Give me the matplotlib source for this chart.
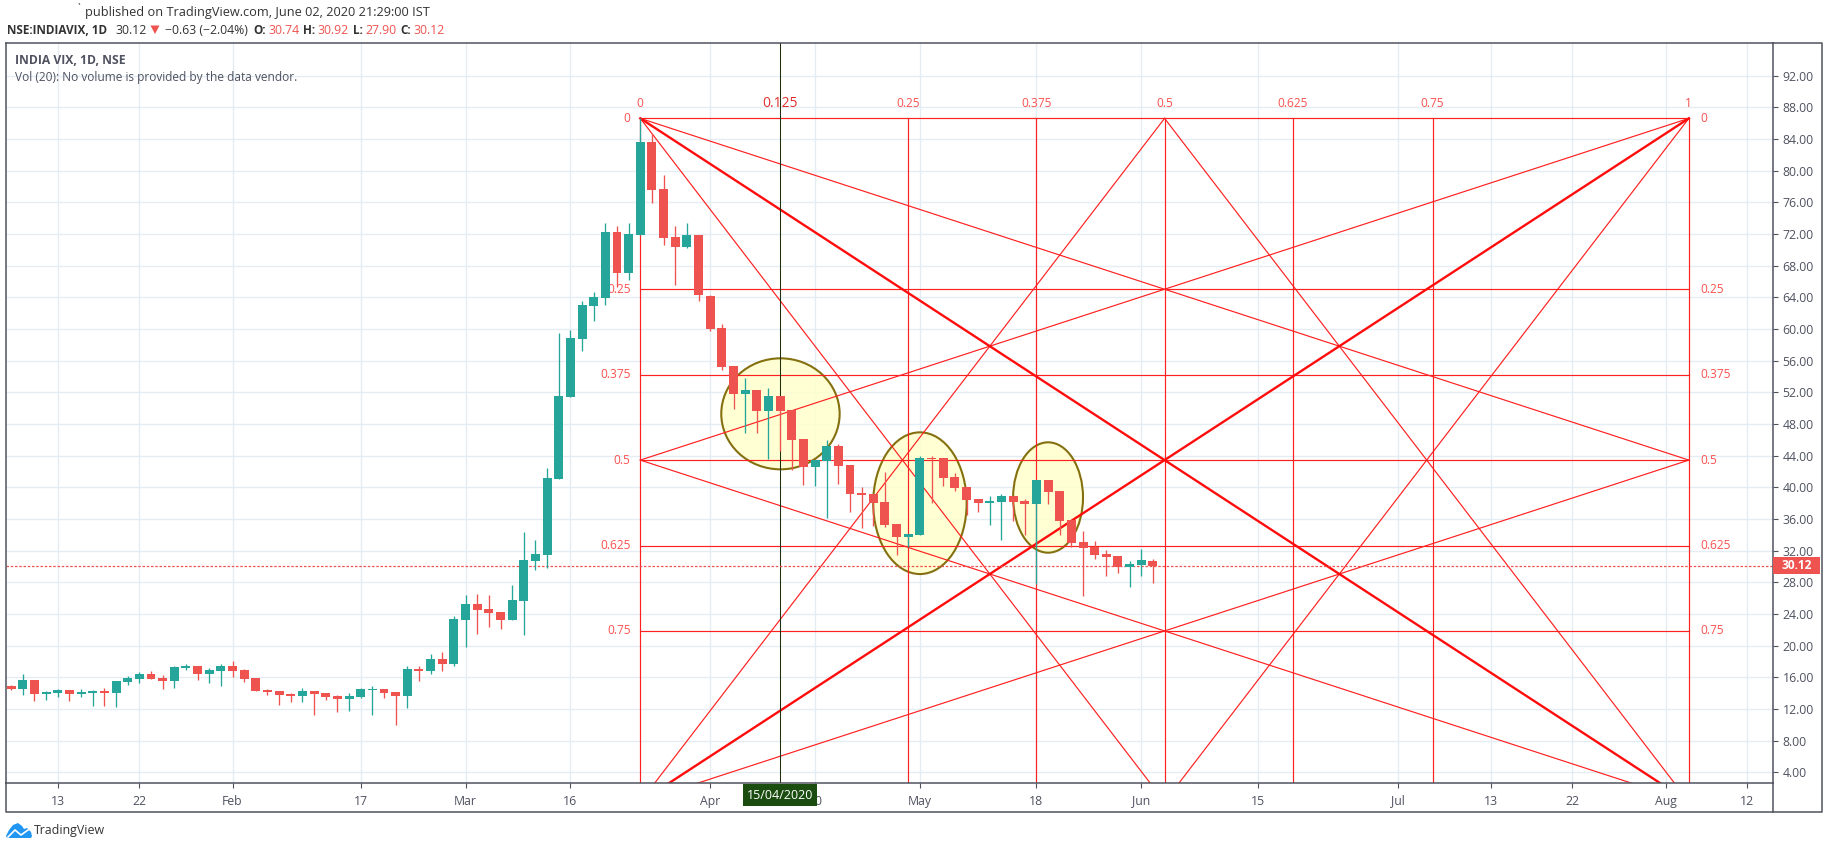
import matplotlib
matplotlib.use('Agg')
import matplotlib.pyplot as plt
from matplotlib.patches import Ellipse, Polygon, Rectangle

plt.rcParams['font.family'] = ['Open Sans', 'DejaVu Sans']

opens = [14.92, 14.49, 15.66, 13.85, 13.98, 14.37, 13.85, 13.98, 14.24, 13.98,
         15.4, 15.78, 16.43, 15.9, 15.53, 17.2, 17.46, 16.43, 16.8, 17.46,
         16.95, 15.9, 14.37, 14.24, 13.85, 13.6, 14.24, 13.98, 13.6, 13.2,
         13.46, 14.37, 14.5, 14.1, 13.6, 17.07, 16.84, 18.32, 17.68, 23.24,
         25.26, 24.63, 24.25, 23.24, 25.64, 30.69, 31.45, 41.09, 51.45, 58.78,
         62.9, 63.92, 72.25, 67.07, 71.87, 83.62, 77.68, 71.62, 70.36, 71.87,
         64.2, 60.17, 55.37, 51.83, 52.34, 49.68, 51.58, 49.81, 46.15, 42.61,
         43.33, 45.26, 42.78, 39.24, 39.12, 38.1, 35.33, 33.68, 33.94, 43.66,
         43.66, 41.26, 40.0, 38.48, 37.98, 38.1, 38.86, 38.23, 37.85, 40.88,
         39.49, 35.83, 33.05, 32.5, 31.54, 31.28, 29.89, 30.15, 30.74]
highs = [15.0, 16.43, 15.66, 14.24, 14.5, 14.37, 14.5, 14.37, 14.62, 15.53,
         16.17, 16.7, 16.8, 16.3, 17.46, 17.72, 17.46, 17.2, 17.72, 18.1,
         17.07, 15.9, 14.5, 14.24, 13.98, 14.62, 14.24, 13.98, 13.72, 13.98,
         14.62, 14.88, 14.5, 14.1, 17.46, 17.46, 18.95, 19.2, 23.75, 26.4,
         26.53, 26.4, 24.25, 27.66, 34.36, 33.35, 42.44, 59.5, 59.87, 63.54,
         64.67, 73.39, 73.0, 73.39, 86.6, 84.63, 79.45, 73.0, 73.39, 71.87,
         64.3, 60.67, 55.37, 53.85, 52.34, 52.59, 51.58, 49.81, 46.15, 43.49,
         46.02, 45.52, 42.86, 40.0, 39.12, 41.89, 35.33, 34.06, 43.92, 43.92,
         43.66, 41.77, 40.0, 38.48, 38.86, 39.12, 38.86, 38.48, 40.88, 40.88,
         39.49, 35.83, 34.44, 33.18, 32.04, 31.28, 30.65, 32.17, 30.92]
lows = [14.37, 13.72, 12.95, 13.08, 13.5, 12.95, 13.5, 12.43, 12.43, 12.3,
        15.0, 15.27, 15.78, 14.5, 14.62, 16.95, 15.66, 15.27, 14.9, 16.04,
        15.4, 14.24, 13.72, 12.56, 12.82, 12.82, 11.27, 13.08, 11.66, 11.78,
        13.33, 11.27, 13.33, 9.98, 12.17, 15.53, 16.46, 16.84, 17.43, 19.83,
        21.47, 22.36, 22.1, 23.24, 21.35, 29.56, 29.8, 41.09, 51.45, 57.26,
        61.05, 63.03, 65.3, 66.19, 71.87, 75.92, 70.61, 65.56, 70.23, 63.54,
        59.8, 54.86, 49.94, 46.9, 46.9, 43.62, 44.63, 42.23, 40.34, 40.21,
        36.17, 40.46, 36.84, 34.82, 35.07, 34.95, 31.41, 32.46, 33.94, 37.98,
        40.13, 39.49, 36.46, 36.84, 35.2, 33.31, 35.71, 33.94, 27.83, 37.85,
        33.94, 32.5, 26.23, 30.9, 28.76, 29.14, 27.37, 28.76, 27.9]
closes = [14.49, 15.66, 13.85, 14.1, 14.37, 13.85, 14.1, 14.24, 13.98, 15.53,
          15.9, 16.43, 15.78, 15.53, 17.33, 17.46, 16.43, 16.95, 17.46, 16.8,
          15.78, 14.24, 14.1, 13.72, 13.6, 14.24, 13.85, 13.46, 13.2, 13.6,
          14.5, 14.5, 13.98, 13.6, 17.07, 16.84, 18.32, 17.68, 23.37, 25.26,
          24.5, 24.13, 23.24, 25.77, 30.82, 31.58, 41.18, 51.54, 58.86, 63.03,
          64.04, 72.25, 67.07, 72.0, 83.62, 77.56, 71.49, 70.36, 71.87, 64.29,
          60.04, 55.24, 51.83, 52.34, 49.68, 51.58, 49.68, 46.02, 42.61, 43.49,
          45.26, 42.74, 39.12, 38.99, 37.98, 35.2, 33.68, 34.06, 43.66, 43.54,
          41.14, 39.87, 38.36, 37.98, 38.23, 38.86, 38.1, 37.85, 40.88, 39.37,
          35.71, 32.93, 32.29, 31.41, 31.16, 29.89, 30.27, 30.78, 30.12]

tick_bars = [4, 11, 19, 30, 39, 48, 60, 69, 78, 88, 97, 107, 119, 127, 134, 142, 149]
tick_labels = ['13', '22', 'Feb', '17', 'Mar', '16', 'Apr', '20', 'May', '18', 'Jun',
               '15', 'Jul', '13', '22', 'Aug', '12']
price_ticks = list(range(4, 96, 4))
last_price = 30.12

# gann box
box_bars = [54, 66, 77, 88, 99, 110, 122, 144]
box_bar_labels = ['0', '0.125', '0.25', '0.375', '0.5', '0.625', '0.75', '1']
box_top = 86.6
box_bottom = 0.27
box_levels = [0, 0.25, 0.375, 0.5, 0.625, 0.75]
level_labels = ['0', '0.25', '0.375', '0.5', '0.625', '0.75']
crosshair_bar = 66
crosshair_date = '15/04/2020'

# highlighted areas: centre bar, centre price, width in bars, height in price
circle_bars = [66.03, 78.0, 89.0]
circle_prices = [49.28, 37.99, 38.71]
circle_widths = [10.16, 8.02, 6.0]
circle_heights = [14.02, 17.9, 13.94]

UP = '#26a69a'
DOWN = '#ef5350'
GRID = '#e3edf3'
FRAME = '#50535e'
TEXT = '#4f5260'
GANN = '#ff2020'
GANN_TEXT = '#f9514f'
W, H = 1828, 849


def level_price(frac):
    return box_top + (box_bottom - box_top) * frac


fig = plt.figure(figsize=(W / 100, H / 100), dpi=100)
ax = fig.add_axes([6.3 / W, 1 - 783.3 / H, (1773.3 - 6.3) / W, (783.3 - 43) / H])
ax.set_xlim(-0.42, 151.25)
ax.set_ylim(2.61, 96.12)
ax.set_axisbelow(True)
ax.grid(True, color=GRID, lw=1.0)
for s in ax.spines.values():
    s.set_color(FRAME)
    s.set_linewidth(1.1)

ax.set_xticks(tick_bars)
ax.set_xticklabels(tick_labels)
ax.yaxis.tick_right()
ax.set_yticks(price_ticks)
ax.set_yticklabels(['%.2f' % p for p in price_ticks])
ax.tick_params(axis='x', length=3.6, width=0.8, color=FRAME, labelcolor=TEXT, labelsize=8.8, pad=4.5)
ax.tick_params(axis='y', length=3.6, width=0.8, color=FRAME, labelcolor=TEXT, labelsize=8.8, pad=3.2)

for cx, cy, cw, ch in zip(circle_bars, circle_prices, circle_widths, circle_heights):
    ax.add_patch(Ellipse((cx, cy), cw, ch, facecolor=(1, 1, 0.8, 0.85), edgecolor='#85700f', lw=1.5, zorder=1.5))

# gann lines
left, mid, right = box_bars[0], box_bars[4], box_bars[-1]
for f in box_levels:
    ax.plot([left, right], [level_price(f)] * 2, color=GANN, lw=0.85, zorder=2)
for b in box_bars:
    if b != crosshair_bar:
        ax.plot([b, b], [box_top, box_bottom], color=GANN, lw=0.85, zorder=2)
thin = [(left, 0, mid, 1), (right, 0, mid, 1), (mid, 0, left, 1), (mid, 0, right, 1),
        (left, 0, right, 0.5), (right, 0, left, 0.5), (left, 0.5, right, 1), (right, 0.5, left, 1)]
for x0, f0, x1, f1 in thin:
    ax.plot([x0, x1], [level_price(f0), level_price(f1)], color=GANN, lw=0.85, zorder=2)
for x0, f0, x1, f1 in [(left, 0, right, 1), (right, 0, left, 1)]:
    ax.plot([x0, x1], [level_price(f0), level_price(f1)], color='#ff0c0c', lw=1.7, zorder=2)

for f, lab in zip(box_levels, level_labels):
    ax.annotate(lab, (left, level_price(f)), xytext=(-7, 0), textcoords='offset points', ha='right', va='center',
                color=GANN_TEXT, fontsize=8.6, zorder=2.2)
    ax.annotate(lab, (right, level_price(f)), xytext=(8, 0), textcoords='offset points', ha='left', va='center',
                color=GANN_TEXT, fontsize=8.6, zorder=2.2)
for b, lab in zip(box_bars, box_bar_labels):
    ax.annotate(lab, (b, box_top), xytext=(0, 10.5), textcoords='offset points', ha='center', va='center',
                color='#e0302c' if lab == '0.125' else GANN_TEXT, fontsize=10 if lab == '0.125' else 8.6, zorder=2.2)

ax.axvline(crosshair_bar, color='#1f2f0c', lw=0.75, zorder=2.5)
ax.axhline(last_price, color=DOWN, lw=0.9, ls=(0, (2, 1.4)), zorder=2.5)

# candles
for i, (o, h, l, c) in enumerate(zip(opens, highs, lows, closes)):
    col = UP if c >= o else DOWN
    ax.vlines(i, l, h, color=col, lw=0.95, zorder=3)
    ax.bar(i, abs(c - o), bottom=min(o, c), width=0.77, color=col, lw=0, zorder=3.1)

# crosshair date and last price labels
ax.add_patch(Rectangle((crosshair_bar - 37 / 11.65, -23 / 740.3), 74 / 11.65, 22 / 740.3,
                       transform=ax.get_xaxis_transform(), clip_on=False, facecolor='#1b4d10', lw=0, zorder=5))
ax.text(crosshair_bar, -12 / 740.3, crosshair_date, transform=ax.get_xaxis_transform(), color='white',
        fontsize=9, ha='center', va='center', clip_on=False, zorder=6)
ax.add_patch(Rectangle((1, last_price - 1.07), 47 / 1767, 2.14, transform=ax.get_yaxis_transform(),
                       clip_on=False, facecolor=DOWN, lw=0, zorder=5))
ax.text(1 + 23.5 / 1767, last_price, '%.2f' % last_price, transform=ax.get_yaxis_transform(), color='white',
        fontsize=8.6, fontweight='bold', ha='center', va='center', clip_on=False, zorder=6)

# everything around the chart, in image pixels
page = fig.add_axes([0, 0, 1, 1], facecolor='none')
page.set_xlim(0, W)
page.set_ylim(H, 0)
page.axis('off')
page.plot([1773.3, 1821.7, 1821.7, 6.3, 6.3], [43, 43, 812.3, 812.3, 783], color=FRAME, lw=1.1)
page.plot([1773.3, 1773.3], [783, 812.3], color=FRAME, lw=1.1)

page.text(78, 9, '`', fontsize=7, color='#333333', ha='left', va='center')
page.text(85, 12.5, 'published on TradingView.com, June 02, 2020 21:29:00 IST', fontsize=9.15, color='#333333', va='center')
header = [(6.7, 'NSE:INDIAVIX, 1D', '#333333', 'bold', 8.5), (115, '30.12', '#333333', 'normal', 8.8),
          (165, '\u22120.63 (\u22122.04%)', '#333333', 'normal', 8.8), (253, 'O:', '#333333', 'bold', 8.5),
          (268, '30.74', DOWN, 'normal', 8.8), (303, 'H:', '#333333', 'bold', 8.5), (317, '30.92', DOWN, 'normal', 8.8),
          (353, 'L:', '#333333', 'bold', 8.5), (365, '27.90', DOWN, 'normal', 8.8), (400, 'C:', '#333333', 'bold', 8.5),
          (413, '30.12', DOWN, 'normal', 8.8)]
for x, s, col, weight, size in header:
    page.text(x, 30, s, fontsize=size, color=col, fontweight=weight, va='center')
page.add_patch(Polygon([[150.5, 25.5], [159.5, 25.5], [155, 34]], facecolor=DOWN, lw=0))
page.text(15, 60.5, 'INDIA VIX, 1D, NSE', fontsize=8.7, fontweight='bold', color=TEXT, va='center')
page.text(15, 77, 'Vol (20): No volume is provided by the data vendor.', fontsize=8.6, color=TEXT, va='center')

# logo
page.add_patch(Polygon([[6, 836], [9, 830], [13, 825], [18, 823], [22, 826], [24, 829], [27, 828], [31, 832],
                        [32, 836], [31, 838], [7, 838]], facecolor='#2196f3', lw=0))
page.plot([8, 15, 21, 28], [837, 830, 835, 830], color='white', lw=1.2)
page.text(34, 830.5, 'TradingView', fontsize=8.9, color='#333333', va='center')

fig.savefig('out.png', dpi=100)
